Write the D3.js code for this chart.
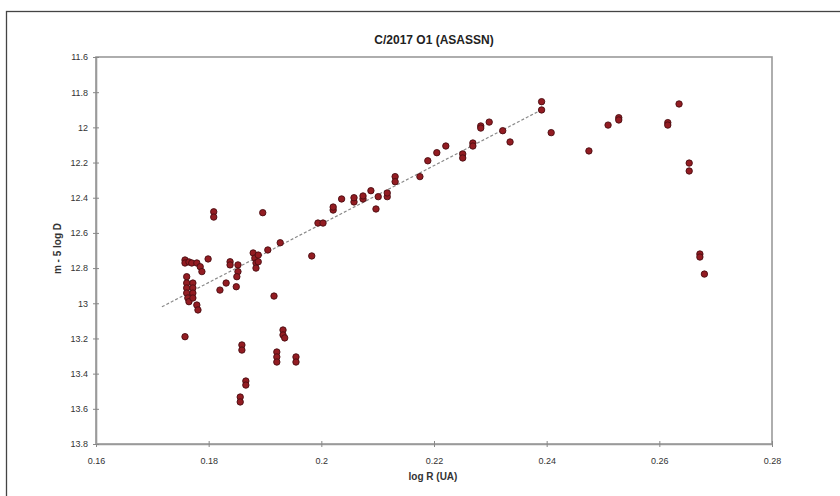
<!DOCTYPE html>
<html>
<head>
<meta charset="utf-8">
<script src="https://cdn.jsdelivr.net/npm/d3@7"></script>
<style>
    body { margin: 0; background: #fff; }
    svg { display: block; font-family: "Liberation Sans Narrow", "Liberation Sans", Arial, sans-serif; }
    .tick text { fill: #333; font-size: 9px; }
</style>
</head>
<body>
<script>
//chart data
var chartTitle = "C/2017 O1 (ASASSN)";
var xLabel = "log R (UA)";
var yLabel = "m - 5 log D";

// log R values
var logR = [
    0.1758, 0.1758, 0.1765, 0.1770, 0.1779, 0.1785, 0.1788, 0.1799,
    0.1761, 0.1761, 0.1761, 0.1761, 0.1763, 0.1765,
    0.1772, 0.1772, 0.1772, 0.1772, 0.1779, 0.1781,
    0.1820, 0.1831, 0.1838, 0.1838, 0.1852, 0.1852, 0.1850, 0.1849,
    0.1879, 0.1882, 0.1884, 0.1884, 0.1888, 0.1888, 0.1905, 0.1927,
    0.1983, 0.1916, 0.1809, 0.1809, 0.1896, 0.1758,
    0.1859, 0.1859, 0.1866, 0.1866, 0.1856, 0.1856,
    0.1932, 0.1932, 0.1935, 0.1921, 0.1921, 0.1921, 0.1955, 0.1955,
    0.1994, 0.2003, 0.2021, 0.2021, 0.2036, 0.2058, 0.2058, 0.2074,
    0.2074, 0.2088, 0.2097, 0.2101, 0.2117, 0.2117, 0.2131, 0.2131,
    0.2175, 0.2189, 0.2205, 0.2221, 0.2251, 0.2251, 0.2269, 0.2269,
    0.2283, 0.2283, 0.2298, 0.2322, 0.2335, 0.2391, 0.2391, 0.2408,
    0.2475, 0.2509, 0.2528, 0.2528, 0.2615, 0.2615, 0.2635,
    0.2653, 0.2653, 0.2672, 0.2672, 0.2680
];

// m - 5 log D values
var magnitude = [
    12.754, 12.771, 12.765, 12.771, 12.771, 12.792, 12.820, 12.748,
    12.849, 12.885, 12.913, 12.942, 12.970, 12.991,
    12.885, 12.913, 12.942, 12.970, 13.010, 13.038,
    12.925, 12.885, 12.764, 12.782, 12.782, 12.820, 12.849, 12.906,
    12.714, 12.743, 12.771, 12.800, 12.726, 12.764, 12.697, 12.656,
    12.731, 12.959, 12.480, 12.510, 12.485, 13.190,
    13.237, 13.266, 13.442, 13.465, 13.533, 13.561,
    13.152, 13.180, 13.197, 13.277, 13.305, 13.334, 13.305, 13.334,
    12.544, 12.544, 12.470, 12.453, 12.407, 12.424, 12.400, 12.407,
    12.390, 12.360, 12.464, 12.394, 12.394, 12.373, 12.280, 12.309,
    12.280, 12.190, 12.144, 12.106, 12.151, 12.174, 12.089, 12.106,
    11.992, 12.004, 11.970, 12.019, 12.083, 11.854, 11.901, 12.030,
    12.134, 11.987, 11.945, 11.958, 11.973, 11.987, 11.867,
    12.203, 12.248, 12.720, 12.737, 12.834
];

// dashed trend line ends
var trendR = [0.1717, 0.2388];
var trendMag = [13.02, 11.905];

// axis ticks
var xTicks = [0.16, 0.18, 0.2, 0.22, 0.24, 0.26, 0.28];
var yTicks = [11.6, 11.8, 12, 12.2, 12.4, 12.6, 12.8, 13, 13.2, 13.4, 13.6, 13.8];

(function(){

    var width = 840,
        height = 496;

    // plot area
    var left = 96,
        right = 772,
        top = 57,
        bottom = 444;

    var svg = d3.select("body")
        .append("svg")
        .attr("width", width)
        .attr("height", height);

    //outer frame of the figure
    svg.append("rect")
        .attr("x", 6.5)
        .attr("y", 11.5)
        .attr("width", 860)
        .attr("height", 520)
        .attr("fill", "#fff")
        .attr("stroke", "#444")
        .attr("stroke-width", 1.3);

    var xScale = d3.scaleLinear()
        .domain([0.16, 0.28])
        .range([left, right]);

    // magnitude grows downward
    var yScale = d3.scaleLinear()
        .domain([11.6, 13.8])
        .range([top, bottom]);

    //plot frame
    svg.append("rect")
        .attr("x", left)
        .attr("y", top)
        .attr("width", right - left)
        .attr("height", bottom - top)
        .attr("fill", "none")
        .attr("stroke", "#9a9a9a")
        .attr("stroke-width", 1.6);

    //x axis
    var xAxis = d3.axisBottom(xScale)
        .tickValues(xTicks)
        .tickFormat(d3.format("~g"))
        .tickSizeInner(3)
        .tickSizeOuter(0)
        .tickPadding(11);

    var gx = svg.append("g")
        .attr("transform", "translate(0," + bottom + ")")
        .call(xAxis);
    gx.select(".domain").attr("stroke", "#9a9a9a").attr("stroke-width", 1.6);
    gx.selectAll(".tick line").attr("stroke", "#888").attr("y1", -3);

    //y axis
    var yAxis = d3.axisLeft(yScale)
        .tickValues(yTicks)
        .tickFormat(d3.format("~g"))
        .tickSizeInner(3)
        .tickSizeOuter(0)
        .tickPadding(5);

    var gy = svg.append("g")
        .attr("transform", "translate(" + left + ",0)")
        .call(yAxis);
    gy.select(".domain").attr("stroke", "#9a9a9a").attr("stroke-width", 1.6);
    gy.selectAll(".tick line").attr("stroke", "#888").attr("x1", 3);

    //trend line
    svg.append("line")
        .attr("x1", xScale(trendR[0]))
        .attr("y1", yScale(trendMag[0]))
        .attr("x2", xScale(trendR[1]))
        .attr("y2", yScale(trendMag[1]))
        .attr("stroke", "#8a8a8a")
        .attr("stroke-width", 1.2)
        .attr("stroke-dasharray", "3,2");

    //data points
    var points = d3.range(logR.length).map(function(i){
        return { r: logR[i], m: magnitude[i] };
    });

    svg.selectAll(".dot")
        .data(points)
        .enter()
        .append("circle")
        .attr("class", "dot")
        .attr("cx", function(d){ return xScale(d.r); })
        .attr("cy", function(d){ return yScale(d.m); })
        .attr("r", 3.2)
        .attr("fill", "#931c22")
        .attr("stroke", "#4a0d12")
        .attr("stroke-width", 0.9);

    //title
    svg.append("text")
        .attr("x", (left + right) / 2)
        .attr("y", 44)
        .attr("text-anchor", "middle")
        .attr("font-size", "12px")
        .attr("font-weight", "bold")
        .attr("fill", "#222")
        .text(chartTitle);

    //axis titles
    svg.append("text")
        .attr("x", (left + right) / 2 - 1)
        .attr("y", 480)
        .attr("text-anchor", "middle")
        .attr("font-size", "10px")
        .attr("font-weight", "bold")
        .attr("fill", "#333")
        .text(xLabel);

    svg.append("text")
        .attr("transform", "translate(61," + ((top + bottom) / 2 - 2) + ") rotate(-90)")
        .attr("text-anchor", "middle")
        .attr("font-size", "10px")
        .attr("font-weight", "bold")
        .attr("fill", "#333")
        .text(yLabel);
})();
</script>
</body>
</html>
